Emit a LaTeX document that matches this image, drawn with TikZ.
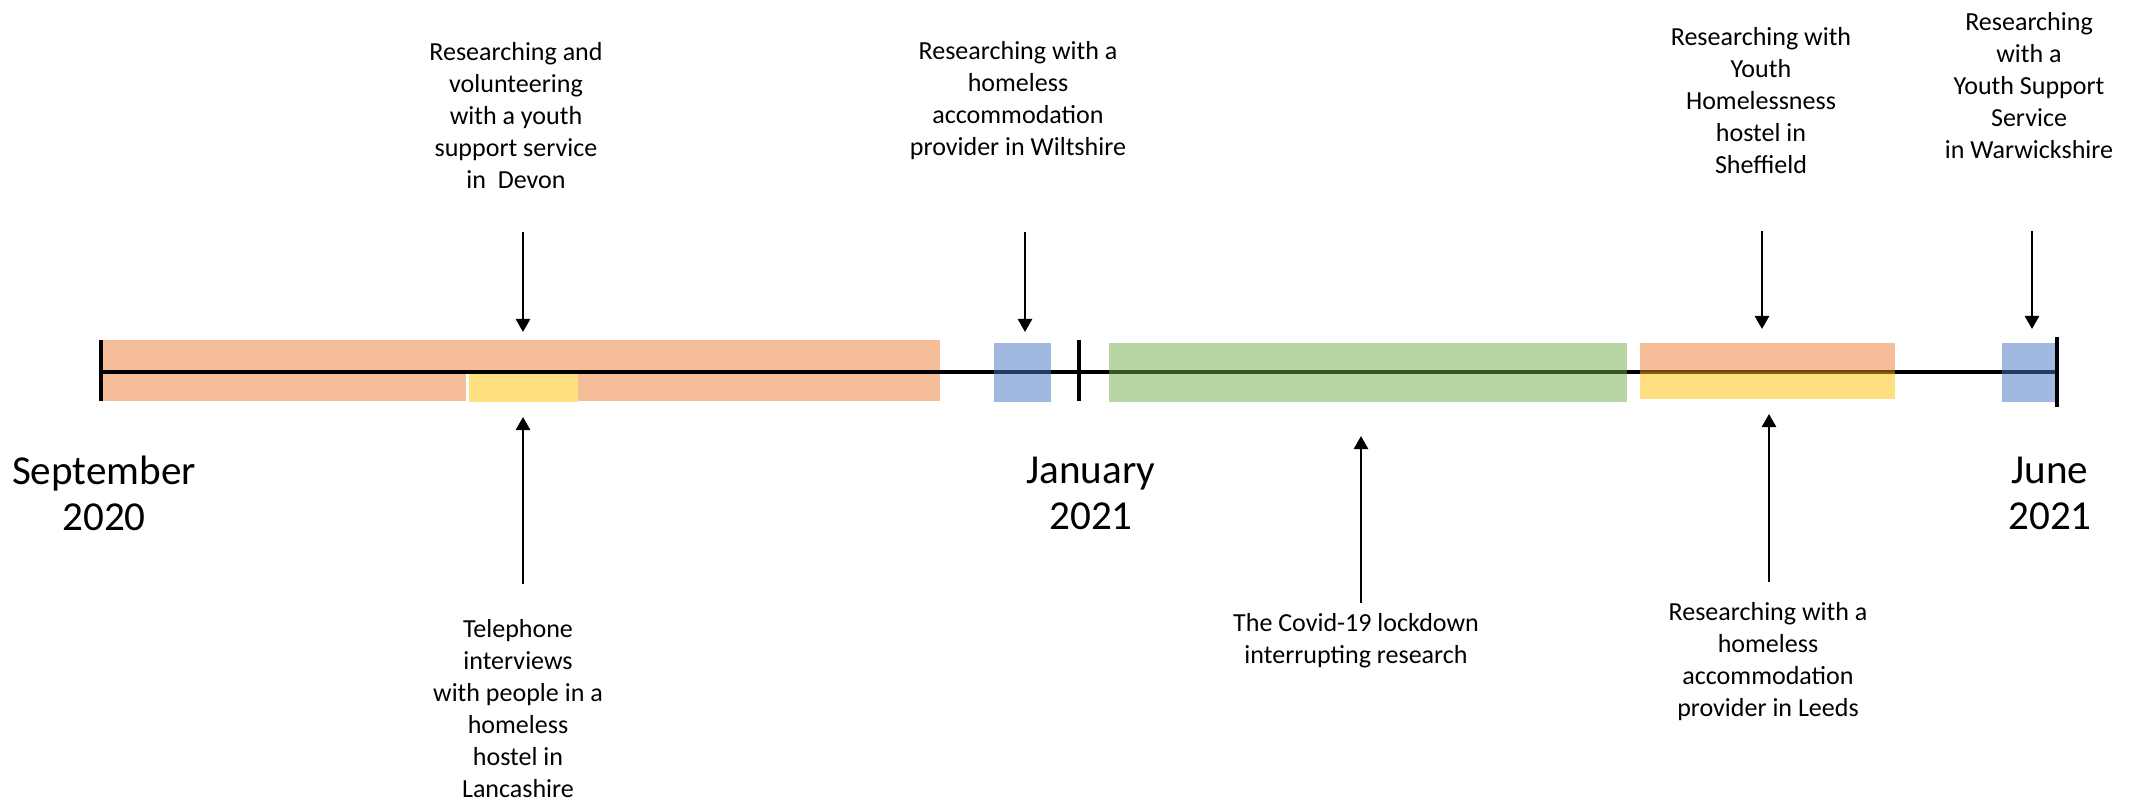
\documentclass[tikz,border=0pt]{standalone}
\usepackage{fontspec}
\setmainfont{Carlito}
\usetikzlibrary{arrows.meta}
\definecolor{orng}{HTML}{ED7D31}
\definecolor{blu}{HTML}{4472C4}
\definecolor{grn}{HTML}{70AD47}
\definecolor{ylw}{HTML}{FFC000}

\begin{document}
\begin{tikzpicture}[x=0.01cm,y=-0.01cm,
  lbl/.style={align=center,inner sep=0pt,font=\fontsize{7.4}{9.1}\selectfont},
  date/.style={align=center,inner sep=0pt,font=\fontsize{11.7}{13.1}\selectfont},
  arr/.style={line width=0.7pt,-{Triangle[width=4pt,length=3.7pt]}},
  band/.style={fill opacity=0.5},
  tick/.style={line width=0.9pt}]
  \useasboundingbox (0,0) rectangle (2138,803);
  \coordinate (t0) at (101,372);
  \coordinate (t1) at (1079,372);
  \coordinate (t2) at (2057,372);
  \fill[orng,band] (103,340) rectangle (940,401);
  \fill[white] (466,374) rectangle (578,402);
  \fill[ylw,band] (469,374) rectangle (578,402);
  \draw[line width=1.2pt] (t0) -- (t2);
  \draw[tick] (101,340) -- (101,401);
  \draw[tick] (1079,340) -- (1079,401);
  \fill[blu,band] (994,343) rectangle (1051,402);
  \fill[grn,band] (1109,343) rectangle (1627,402);
  \fill[orng,band] (1640,343) rectangle (1895,372);
  \fill[ylw,band] (1640,372) rectangle (1895,399);
  \fill[blu,band] (2002,343) rectangle (2056,402);
  \draw[tick] (2057,337) -- (2057,407);
  \node[date] (d0) at (104,493) {September\\2020};
  \node[date] (d1) at (1091,493) {January\\2021};
  \node[date] (d2) at (2050,493) {June\\2021};
  \node[lbl] (v0) at (516,116) {Researching and\\volunteering\\with a youth\\support service\\in\ \ Devon};
  \node[lbl] (v1) at (1018,101) {Researching with a\\homeless\\accommodation\\provider in Wiltshire};
  \node[lbl] (v2) at (1761,101) {Researching with\\Youth\\Homelessness\\hostel in\\Sheffield};
  \node[lbl] (v3) at (2029,86) {Researching\\with a\\Youth Support\\Service\\in Warwickshire};
  \node[lbl] (v4) at (518,709) {Telephone\\interviews\\with people in a\\homeless\\hostel in\\Lancashire};
  \node[lbl] (v5) at (1356,641) {The Covid-19 lockdown\\interrupting research};
  \node[lbl] (v6) at (1768,662) {Researching with a\\homeless\\accommodation\\provider in Leeds};
  \coordinate (a0) at (523,232);
  \coordinate (b0) at (523,332);
  \coordinate (a1) at (1025,232);
  \coordinate (b1) at (1025,332);
  \coordinate (a2) at (1762,231);
  \coordinate (b2) at (1762,329);
  \coordinate (a3) at (2032,231);
  \coordinate (b3) at (2032,329);
  \coordinate (a4) at (523,584);
  \coordinate (b4) at (523,417);
  \coordinate (a5) at (1361,603);
  \coordinate (b5) at (1361,436);
  \coordinate (a6) at (1769,582);
  \coordinate (b6) at (1769,414);
  \draw[arr] (a0) -- (b0);
  \draw[arr] (a1) -- (b1);
  \draw[arr] (a2) -- (b2);
  \draw[arr] (a3) -- (b3);
  \draw[arr] (a4) -- (b4);
  \draw[arr] (a5) -- (b5);
  \draw[arr] (a6) -- (b6);
\end{tikzpicture}
\end{document}
